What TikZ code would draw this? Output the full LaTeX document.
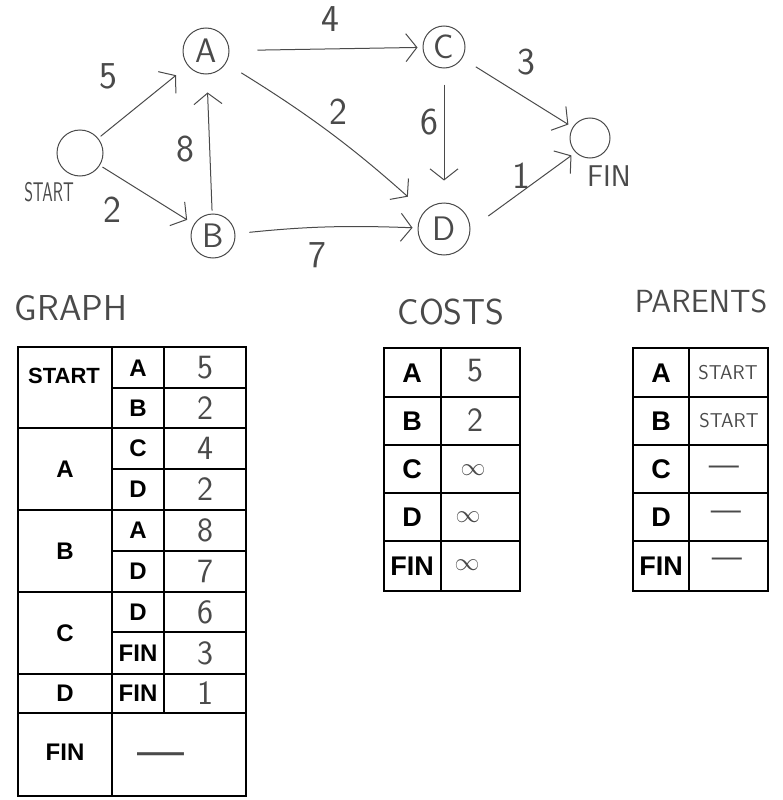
\documentclass[tikz,border=0pt]{standalone}
\usepackage{fontspec}
\usepackage{graphicx}
\setmainfont{Liberation Sans}
\usetikzlibrary{arrows.meta,positioning}
\definecolor{pencil}{HTML}{4A4A4A}
\newcommand\handsz[1]{\sffamily\fontsize{#1}{#1}\selectfont}
\newcommand\keysz[1]{\rmfamily\bfseries\fontsize{#1}{#1}\selectfont}
\tikzset{
  vert/.style={circle,draw=pencil,line width=1pt,minimum size=46pt,inner sep=0pt,
               text=pencil,font=\handsz{34}},
  link/.style={-{Straight Barb[length=11pt,width=28pt]},draw=pencil,line width=1pt,
               shorten >=5pt,shorten <=3pt},
  wlabel/.style={text=pencil,font=\handsz{38},inner sep=0pt},
  head/.style={text=pencil,font=\handsz{36},inner sep=0pt},
  key/.style={font=\keysz{24},inner sep=0pt},
  val/.style={text=pencil,font=\handsz{34},inner sep=0pt},
  grid/.style={line width=2pt,draw=black},
}
\begin{document}
\begin{tikzpicture}[x=1pt,y=-1pt]
  \useasboundingbox (0,0) rectangle (783,800);
  % graph
  \node[vert] (s) at (80,153) {};
  \node[wlabel,font=\handsz{27}] (sl) at (49,192) {\scalebox{0.62}[1]{START}};
  \node[vert] (a) at (206,51) {A};
  \node[vert,minimum size=44pt] (b) at (213,236) {B};
  \node[vert,minimum size=42pt] (c) at (444,47) {C};
  \node[vert,minimum size=52pt] (d) at (444,229) {D};
  \node[vert,minimum size=40pt] (f) at (590,138) {};
  \node[wlabel,font=\handsz{30}] (fl) at (609,176) {FIN};
  \draw[link,shorten >=15pt] (s) -- (a); \draw[link,shorten >=8pt] (s) -- (b);
  \draw[link,shorten >=18pt] (b) -- (a);
  \draw[link,shorten <=28pt] (a) -- (c);
  \draw[link,bend left=5,shorten <=18pt,shorten >=22pt] (a) to (d);
  \draw[link,bend left=4,shorten <=14pt] (b) to (d);
  \draw[link,shorten <=16pt,shorten >=22pt] (c) -- (d);
  \draw[link,shorten <=16pt] (c) -- (f);
  \draw[link,shorten <=22pt] (d.east) -- (f.225);
  \node[wlabel] (w1) at (108,76) {5};  \node[wlabel] (w2) at (112,210) {2};
  \node[wlabel] (w3) at (185,149) {8}; \node[wlabel] (w4) at (330,19) {4};
  \node[wlabel] (w5) at (338,112) {2}; \node[wlabel] (w6) at (317,255) {7};
  \node[wlabel] (w7) at (429,122) {6}; \node[wlabel] (w8) at (526,62) {3};
  \node[wlabel] (w9) at (521,176) {1};
  % headings
  \node[head] (hg) at (71,308) {GRAPH};
  \node[head] (hc) at (451,312) {COSTS};
  \node[head,font=\handsz{32}] (hp) at (701,301) {PARENTS};
  % graph table
  \draw[grid] (18,347) rectangle (246,796);
  \draw[grid] (112,347) -- (112,796) (164,347) -- (164,713);
  \draw[grid] (18,428) -- (246,428) (18,510) -- (246,510) (18,592) -- (246,592)
              (18,674) -- (246,674) (18,713) -- (246,713);
  \draw[grid] (112,388) -- (246,388) (112,469) -- (246,469) (112,551) -- (246,551)
              (112,632) -- (246,632);
  \node[key,font=\keysz{22}] (g1) at (64,376) {START}; \node[key] (g2) at (65,469) {A};
  \node[key] (g3) at (65,551) {B}; \node[key] (g4) at (65,633) {C};
  \node[key] (g5) at (65,693) {D}; \node[key] (g6) at (65,752) {FIN};
  \node[key] (n1) at (138,368) {A}; \node[key] (n2) at (138,408) {B};
  \node[key] (n3) at (138,448) {C}; \node[key] (n4) at (138,489) {D};
  \node[key] (n5) at (138,530) {A}; \node[key] (n6) at (138,571) {D};
  \node[key] (n7) at (138,612) {D}; \node[key] (n8) at (138,653) {FIN};
  \node[key] (n9) at (138,693) {FIN};
  \node[val] (v1) at (205,368) {5}; \node[val] (v2) at (205,408) {2};
  \node[val] (v3) at (205,448) {4}; \node[val] (v4) at (205,489) {2};
  \node[val] (v5) at (205,530) {8}; \node[val] (v6) at (205,571) {7};
  \node[val] (v7) at (205,612) {6}; \node[val] (v8) at (205,653) {3};
  \node[val] (v9) at (205,693) {1};
  \node[val,font=\handsz{50}] (v10) at (161,760) {---};
  % costs table
  \draw[grid] (384,348) rectangle (520,591);
  \draw[grid] (441,348) -- (441,591);
  \draw[grid] (384,397) -- (520,397) (384,445) -- (520,445) (384,493) -- (520,493)
              (384,541) -- (520,541);
  \node[key,font=\keysz{27}] (c1) at (412,373) {A}; \node[key,font=\keysz{27}] (c2) at (412,421) {B};
  \node[key,font=\keysz{27}] (c3) at (412,469) {C}; \node[key,font=\keysz{27}] (c4) at (412,517) {D};
  \node[key,font=\keysz{27}] (c5) at (412,566) {FIN};
  \node[val] (cv1) at (475,371) {5}; \node[val] (cv2) at (475,420) {2};
  \node[val,font=\handsz{34}] (cv3) at (473,470) {$\infty$};
  \node[val,font=\handsz{34}] (cv4) at (468,517) {$\infty$};
  \node[val,font=\handsz{36}] (cv5) at (467,565) {$\infty$};
  % parents table
  \draw[grid] (633,348) rectangle (768,591);
  \draw[grid] (689,348) -- (689,591);
  \draw[grid] (633,397) -- (768,397) (633,445) -- (768,445) (633,493) -- (768,493)
              (633,541) -- (768,541);
  \node[key,font=\keysz{27}] (p1) at (661,373) {A}; \node[key,font=\keysz{27}] (p2) at (661,421) {B};
  \node[key,font=\keysz{27}] (p3) at (661,469) {C}; \node[key,font=\keysz{27}] (p4) at (661,517) {D};
  \node[key,font=\keysz{27}] (p5) at (661,566) {FIN};
  \node[val,font=\handsz{20}] (pv1) at (728,373) {START};
  \node[val,font=\handsz{20}] (pv2) at (729,421) {START};
  \node[val,font=\handsz{32}] (pv3) at (724,471) {---};
  \node[val,font=\handsz{32}] (pv4) at (726,516) {---};
  \node[val,font=\handsz{32}] (pv5) at (727,563) {---};
\end{tikzpicture}
\end{document}
